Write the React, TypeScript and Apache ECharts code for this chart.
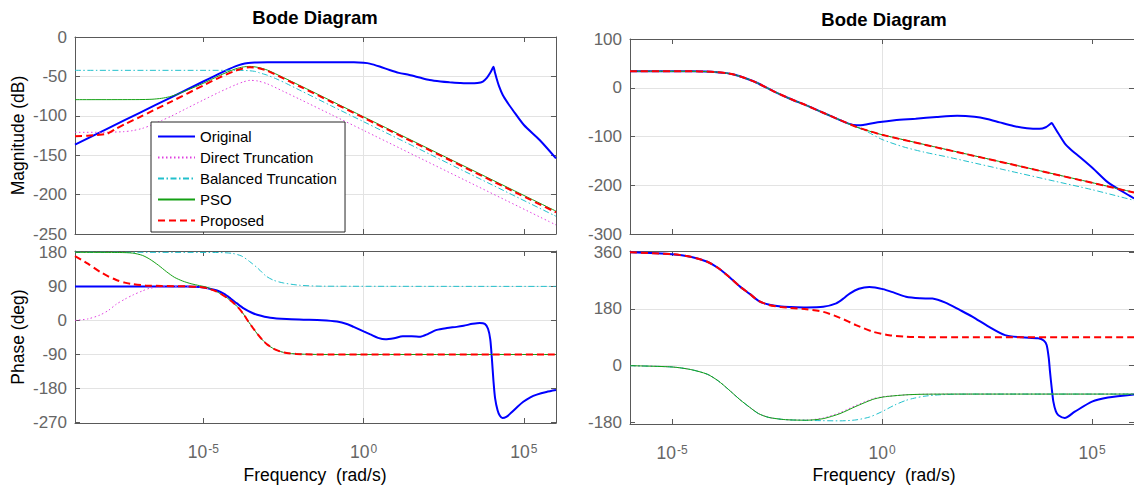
import React, { useEffect, useRef } from 'react';
import * as echarts from 'echarts';

// x values are log10(frequency in rad/s)
type P = [number, number][];

const seriesNames = ['Original', 'Direct Truncation', 'Balanced Truncation', 'PSO', 'Proposed'];
const xTickExponents = [-5, 0, 5];
const magLeftTicks = [-250, -200, -150, -100, -50, 0];
const phaseLeftTicks = [-270, -180, -90, 0, 90, 180];
const magRightTicks = [-300, -200, -100, 0, 100];
const phaseRightTicks = [-180, 0, 180, 360];

// ---------- left magnitude (dB) ----------
const magLOriginal: P = [[-9,-136.5],[-8,-116.5],[-7,-96.5],[-6,-76.5],[-5,-56.5],[-4.5,-46.6],[-4.2,-40.8],[-4,-37.3],[-3.8,-34.6],[-3.6,-33],[-3.4,-32.3],[-3,-32],[-2,-31.9],[-1,-31.9],[-0.3,-32.1],[0,-32.8],[0.19,-33.8],[0.5,-37.5],[0.81,-41.9],[1.1,-45.5],[1.43,-48.2],[1.75,-51.5],[2.06,-54.6],[2.4,-56.5],[2.68,-57.5],[3,-58.3],[3.31,-58.8],[3.55,-58.4],[3.72,-56.5],[3.85,-51.5],[3.95,-45.5],[4.02,-40],[4.05,-37.8],[4.09,-44],[4.15,-53],[4.22,-62],[4.34,-73.6],[4.5,-84],[4.65,-92.6],[5,-111.7],[5.49,-130.7],[6,-154]];
const magLDirect: P = [[-9,-121],[-8,-120.8],[-7.5,-120.2],[-7.2,-118.8],[-6.9,-116],[-6.6,-111.5],[-6.3,-106],[-6,-100.5],[-5.5,-90.2],[-5,-80],[-4.5,-70],[-4,-60.8],[-3.75,-57],[-3.55,-55],[-3.3,-55.8],[-3,-59.5],[-2.5,-69],[-2,-78.8],[-1,-98.6],[0,-118.5],[6,-238.5]];
const magLBalanced: P = [[-9,-42.3],[-4,-42.3],[-3.6,-42.7],[-3.4,-43.6],[-3.26,-45.3],[-3,-48.5],[-2.7,-53.5],[-2.4,-59.2],[-2,-67.3],[-1,-87.5],[0,-107.5],[6,-227.5]];
const magLPso: P = [[-9,-79.5],[-7,-79.4],[-6.6,-79],[-6.3,-77.8],[-6.05,-75.8],[-5.8,-72.5],[-5.5,-67.5],[-5,-58.8],[-4.5,-49],[-4,-40.5],[-3.75,-38],[-3.55,-37.3],[-3.3,-38.5],[-3,-42],[-2.5,-51.5],[-2,-61.3],[-1,-81.3],[0,-101.3],[6,-221]];
const magLProposed: P = [[-9,-125.8],[-8.6,-125.3],[-8.3,-124.3],[-8,-122.8],[-7.7,-116],[-7.4,-109.7],[-7,-102],[-6,-82],[-5,-61.5],[-4.5,-51.5],[-4,-42.8],[-3.75,-39.8],[-3.55,-38.3],[-3.3,-39.3],[-3,-43],[-2.5,-52.5],[-2,-62.5],[-1,-82.5],[0,-102.5],[6,-222.5]];

// ---------- left phase (deg) ----------
const phLOriginal: P = [[-9,90],[-5.5,90],[-5.1,88.5],[-4.8,84],[-4.57,79],[-4.35,70],[-4.15,58],[-3.95,45],[-3.74,32],[-3.5,21],[-3.32,15],[-2.91,7],[-2.4,3.5],[-1.87,2],[-1.3,0.5],[-0.83,-3],[-0.5,-10],[-0.31,-17],[0,-29],[0.21,-37],[0.45,-46],[0.68,-50],[0.95,-47],[1.22,-42],[1.5,-42],[1.77,-43],[2,-36],[2.28,-25],[2.6,-20],[2.9,-17],[3.12,-14],[3.4,-9],[3.62,-6.5],[3.78,-9],[3.88,-22],[3.95,-50],[4,-100],[4.05,-160],[4.1,-205],[4.18,-238],[4.25,-252],[4.33,-258],[4.45,-255],[4.6,-244],[4.8,-228],[4.98,-215],[5.2,-203],[5.4,-196],[5.7,-189],[6,-184]];
const phLDirect: P = [[-9,0],[-8.6,4],[-8.23,14],[-7.95,27],[-7.71,43],[-7.45,56],[-7.2,67],[-6.9,78],[-6.67,85],[-6.15,89],[-5.5,90],[-5,87],[-4.6,77],[-4.3,62],[-4.08,48],[-3.9,33],[-3.74,16],[-3.6,-2],[-3.45,-20],[-3.3,-37],[-3.15,-52],[-3,-64],[-2.8,-75],[-2.6,-82],[-2.4,-86],[-2.1,-88.5],[-1.6,-89.7],[-1,-90],[6,-90]];
const phLBalanced: P = [[-9,180],[-4.5,179.5],[-4.08,177],[-3.8,170],[-3.56,156],[-3.3,138],[-3.04,117],[-2.8,106],[-2.5,99],[-2,93],[-1.3,90.5],[6,90]];
const phLPso: P = [[-9,180],[-7.6,179.5],[-7.2,178],[-6.9,172],[-6.67,162],[-6.4,146],[-6.15,129],[-5.9,114],[-5.64,104],[-5.38,97],[-5.12,92],[-4.9,88],[-4.6,77],[-4.3,62],[-4.08,48],[-3.9,33],[-3.74,16],[-3.6,-2],[-3.45,-20],[-3.3,-37],[-3.15,-52],[-3,-64],[-2.8,-75],[-2.6,-82],[-2.4,-86],[-2.1,-88.5],[-1.6,-89.7],[-1,-90],[6,-90]];
const phLProposed: P = [[-9,170],[-8.6,150],[-8.23,129],[-7.95,116],[-7.71,107],[-7.45,100],[-7.2,96],[-6.8,92.5],[-6.3,91],[-5.5,90],[-5,87],[-4.6,77],[-4.3,62],[-4.08,48],[-3.9,33],[-3.74,16],[-3.6,-2],[-3.45,-20],[-3.3,-37],[-3.15,-52],[-3,-64],[-2.8,-75],[-2.6,-82],[-2.4,-86],[-2.1,-88.5],[-1.6,-89.7],[-1,-90],[6,-90]];

// ---------- right magnitude (dB) ----------
const magROriginal: P = [[-6,33.8],[-4.5,33.7],[-4.2,33.2],[-3.93,32],[-3.7,30],[-3.53,27.3],[-3.25,19.5],[-2.98,10.3],[-2.59,-6.8],[-2.19,-22.6],[-1.8,-36.2],[-1.4,-51.3],[-1,-66.3],[-0.8,-73.5],[-0.6,-77],[-0.45,-76.5],[-0.1,-71],[0.3,-66.5],[0.8,-63.5],[1.3,-60],[1.79,-57.5],[2.2,-59.5],[2.5,-64],[2.8,-71],[3.13,-78.5],[3.45,-83],[3.75,-84.3],[3.9,-81],[4,-75],[4.04,-72.3],[4.1,-80],[4.2,-94],[4.35,-114],[4.5,-127],[4.71,-142],[5.02,-165],[5.38,-194],[5.91,-222.5],[6,-227]];
const magRDirect: P = [[-6,33.8],[-4.5,33.7],[-4.2,33.2],[-3.93,32],[-3.7,30],[-3.53,27.3],[-3.25,19.5],[-2.98,10.3],[-2.59,-6.8],[-2.19,-22.6],[-1.8,-36.2],[-1.4,-51.3],[-1,-66.3],[-0.62,-80],[-0.3,-89],[0,-96.5],[1,-116.5],[2,-136],[3,-155.5],[4,-175.3],[5,-195],[6,-215]];
const magRBalanced: P = [[-6,33.8],[-4.5,33.7],[-4.2,33.2],[-3.93,32],[-3.7,30],[-3.53,27.3],[-3.25,19.5],[-2.98,10.3],[-2.59,-6.8],[-2.19,-22.6],[-1.8,-36.2],[-1.4,-51.3],[-1,-66.3],[-0.7,-77.5],[-0.4,-88],[0,-106],[0.5,-121],[1,-132],[1.56,-142],[2,-150.5],[3,-170],[4,-189.5],[5,-209],[6,-231]];
const magRPso: P = [[-6,33.8],[-4.5,33.7],[-4.2,33.2],[-3.93,32],[-3.7,30],[-3.53,27.3],[-3.25,19.5],[-2.98,10.3],[-2.59,-6.8],[-2.19,-22.6],[-1.8,-36.2],[-1.4,-51.3],[-1,-66.3],[-0.62,-80],[-0.3,-89],[0,-96.3],[1,-116.2],[2,-135.7],[3,-155.2],[4,-175],[5,-194.6],[6,-214.5]];
const magRProposed: P = [[-6,33.8],[-4.5,33.7],[-4.2,33.2],[-3.93,32],[-3.7,30],[-3.53,27.3],[-3.25,19.5],[-2.98,10.3],[-2.59,-6.8],[-2.19,-22.6],[-1.8,-36.2],[-1.4,-51.3],[-1,-66.3],[-0.62,-80],[-0.3,-89],[0,-96.5],[1,-116.5],[2,-136],[3,-155.5],[4,-175.3],[5,-195],[6,-215]];

// ---------- right phase (deg) ----------
const phROriginal: P = [[-6,360],[-5,354],[-4.56,346],[-4.16,330],[-3.9,310],[-3.65,283],[-3.38,251],[-3.15,228],[-2.94,206],[-2.7,194],[-2.4,188],[-2.19,186.5],[-1.8,185],[-1.4,187],[-1.09,198],[-0.9,215],[-0.77,229],[-0.55,244],[-0.3,249.5],[0.02,243],[0.3,231],[0.57,219],[0.9,214],[1.2,213],[1.51,200],[1.85,177],[2.15,156],[2.54,124],[2.93,97],[3.33,90],[3.72,87],[3.85,80],[3.92,66],[3.97,25],[4,-19],[4.04,-70],[4.08,-114],[4.14,-145],[4.2,-157],[4.35,-166],[4.59,-146],[5,-114],[5.38,-101],[6,-91]];
const phRDirect: P = [[-6,0],[-5,-4],[-4.56,-12],[-4.16,-27],[-3.9,-48],[-3.65,-76],[-3.38,-108],[-3.15,-132],[-2.94,-152],[-2.7,-164],[-2.4,-170],[-2.19,-172],[-1.8,-172.5],[-1.4,-166],[-1,-149],[-0.62,-126],[-0.22,-105],[0,-99],[0.17,-96.5],[0.57,-92.5],[1,-90.5],[2,-90],[6,-90]];
const phRBalanced: P = [[-6,0],[-5,-4],[-4.56,-12],[-4.16,-27],[-3.9,-48],[-3.65,-76],[-3.38,-108],[-3.15,-132],[-2.94,-152],[-2.7,-164],[-2.4,-170],[-2.19,-172],[-1.8,-173.5],[-1.4,-174.5],[-1,-175],[-0.62,-172],[-0.3,-163],[-0.02,-147],[0.3,-125],[0.57,-110],[0.77,-103],[1,-97],[1.36,-92.5],[1.75,-90.5],[2.5,-90],[6,-90]];
const phRPso: P = [[-6,0],[-5,-4],[-4.56,-12],[-4.16,-27],[-3.9,-48],[-3.65,-76],[-3.38,-108],[-3.15,-132],[-2.94,-152],[-2.7,-164],[-2.4,-170],[-2.19,-172],[-1.8,-173],[-1.4,-168],[-1,-152],[-0.62,-129],[-0.22,-107],[0,-100],[0.17,-97],[0.57,-92.5],[1,-90.5],[2,-90],[6,-90]];
const phRProposed: P = [[-6,360],[-5,354],[-4.56,346],[-4.16,330],[-3.9,310],[-3.65,283],[-3.38,251],[-3.15,228],[-2.94,206],[-2.7,193],[-2.4,186],[-2.19,183.5],[-1.8,179],[-1.4,171],[-1,152],[-0.62,129],[-0.22,108],[0.17,97],[0.57,92],[1,90.5],[2,90],[6,90]];

const panels: P[][] = [
  [magLOriginal, magLDirect, magLBalanced, magLPso, magLProposed],
  [phLOriginal, phLDirect, phLBalanced, phLPso, phLProposed],
  [magROriginal, magRDirect, magRBalanced, magRPso, magRProposed],
  [phROriginal, phRDirect, phRBalanced, phRPso, phRProposed],
];

const FONT = '"Liberation Sans", Arial, Helvetica, sans-serif';
const FRAME = '#595959';
const GRIDC = '#e3e3e3';
const LABELC = '#666666';

const lineStyles: any[] = [
  { color: '#0000ff', width: 2, type: 'solid' },
  { color: '#e040e0', width: 1, type: [1.5, 2.5] },
  { color: '#22c0cc', width: 1, type: [6, 2.5, 1.5, 2.5] },
  { color: '#14a014', width: 1, type: 'solid' },
  { color: '#ff0000', width: 2, type: [7, 4] },
];

const gridBoxes = [
  { left: 75, top: 37, width: 481, height: 197 },
  { left: 75, top: 251, width: 481, height: 172 },
  { left: 630, top: 39, width: 508, height: 195 },
  { left: 630, top: 251, width: 508, height: 173 },
];
const xRanges = [[-9, 6], [-9, 6], [-6, 6], [-6, 6]];
const yRanges = [[-250, 0], [-271, 183.5], [-300, 100], [-185, 364]];
const yTickSets = [magLeftTicks, phaseLeftTicks, magRightTicks, phaseRightTicks];

function buildOption() {
  const xAxis: any[] = [];
  const yAxis: any[] = [];
  const series: any[] = [];
  gridBoxes.forEach((_, gi) => {
    const isPhase = gi === 1 || gi === 3;
    const [xmin, xmax] = xRanges[gi];
    const [ymin, ymax] = yRanges[gi];
    const ticks = yTickSets[gi];
    xAxis.push({
      type: 'value', gridIndex: gi, position: 'bottom', min: xmin, max: xmax,
      axisLine: { show: true, onZero: false, lineStyle: { color: FRAME, width: 1 } },
      axisTick: { show: true, inside: true, length: 5, customValues: xTickExponents, lineStyle: { color: FRAME } },
      axisLabel: {
        show: isPhase, customValues: xTickExponents, margin: 20,
        formatter: (v: number) => `{b|10}{s|${v}}`,
        rich: {
          b: { fontSize: 17.5, lineHeight: 18, padding: [6, 0, 0, 0], verticalAlign: 'bottom', color: LABELC, fontFamily: FONT },
          s: { fontSize: 12, lineHeight: 13, padding: [0, 0, 0, 1], verticalAlign: 'top', color: LABELC, fontFamily: FONT },
        },
      },
      splitLine: { show: true, showMinLine: false, showMaxLine: false, lineStyle: { color: GRIDC, width: 1 } },
    });
    xAxis.push({
      type: 'value', gridIndex: gi, position: 'top', min: xmin, max: xmax,
      axisLine: { show: true, onZero: false, lineStyle: { color: FRAME, width: 1 } },
      axisTick: { show: true, inside: true, length: 5, customValues: xTickExponents, lineStyle: { color: FRAME } },
      axisLabel: { show: false },
      splitLine: { show: false },
    });
    yAxis.push({
      type: 'value', gridIndex: gi, position: 'left', min: ymin, max: ymax,
      axisLine: { show: true, onZero: false, lineStyle: { color: FRAME, width: 1 } },
      axisTick: { show: true, inside: true, length: 5, customValues: ticks, lineStyle: { color: FRAME } },
      axisLabel: { show: true, customValues: ticks, margin: 8, fontSize: 17, color: LABELC, fontFamily: FONT },
      splitLine: { show: true, showMinLine: false, showMaxLine: false, lineStyle: { color: GRIDC, width: 1 } },
    });
    yAxis.push({
      type: 'value', gridIndex: gi, position: 'right', min: ymin, max: ymax,
      axisLine: { show: true, onZero: false, lineStyle: { color: FRAME, width: 1 } },
      axisTick: { show: true, inside: true, length: 5, customValues: ticks, lineStyle: { color: FRAME } },
      axisLabel: { show: false },
      splitLine: { show: false },
    });
    panels[gi].forEach((data, si) => {
      const ls = lineStyles[si];
      series.push({
        type: 'line', name: seriesNames[si], data,
        xAxisIndex: gi * 2, yAxisIndex: gi * 2,
        symbol: 'none', showSymbol: false, smooth: 0.25, clip: true, silent: true,
        lineStyle: { color: ls.color, width: ls.width, type: ls.type },
        itemStyle: { color: ls.color },
        emphasis: { disabled: true },
        z: 2 + si * 0.01,
      });
    });
  });

  return {
    animation: false,
    backgroundColor: '#ffffff',
    grid: gridBoxes.map((g) => ({ ...g, containLabel: false, show: false })),
    xAxis,
    yAxis,
    series,
    legend: {
      data: seriesNames,
      orient: 'vertical',
      left: 151,
      top: 122,
      padding: [7, 8, 4, 6],
      itemGap: 6,
      itemWidth: 37,
      itemHeight: 14,
      backgroundColor: '#ffffff',
      borderColor: '#262626',
      borderWidth: 1,
      borderRadius: 0,
      selectedMode: false,
      itemStyle: { opacity: 0, color: 'transparent', borderWidth: 0 },
      textStyle: { fontSize: 15, color: '#000000', fontFamily: FONT, lineHeight: 15 },
      z: 10,
    },
    graphic: [
      { type: 'text', x: 315, y: 17.5, style: { text: 'Bode Diagram', textAlign: 'center', textVerticalAlign: 'middle', font: `bold 18.5px ${FONT}`, fill: '#000' } },
      { type: 'text', x: 884, y: 19.5, style: { text: 'Bode Diagram', textAlign: 'center', textVerticalAlign: 'middle', font: `bold 18.5px ${FONT}`, fill: '#000' } },
      { type: 'text', x: 17.5, y: 135.5, rotation: Math.PI / 2, style: { text: 'Magnitude (dB)', textAlign: 'center', textVerticalAlign: 'middle', font: `17.5px ${FONT}`, fill: '#000' } },
      { type: 'text', x: 17.5, y: 337, rotation: Math.PI / 2, style: { text: 'Phase (deg)', textAlign: 'center', textVerticalAlign: 'middle', font: `17.5px ${FONT}`, fill: '#000' } },
      { type: 'text', x: 315, y: 475, style: { text: 'Frequency  (rad/s)', textAlign: 'center', textVerticalAlign: 'middle', font: `17.5px ${FONT}`, fill: '#000' } },
      { type: 'text', x: 884, y: 475, style: { text: 'Frequency  (rad/s)', textAlign: 'center', textVerticalAlign: 'middle', font: `17.5px ${FONT}`, fill: '#000' } },
    ],
  };
}

export default function App() {
  const ref = useRef<HTMLDivElement>(null);
  useEffect(() => {
    if (!ref.current) return;
    const chart = echarts.init(ref.current, undefined, { renderer: 'svg' });
    chart.setOption(buildOption() as any);
    return () => chart.dispose();
  }, []);
  return (
    <div
      ref={ref}
      style={{ position: 'fixed', left: 0, top: 0, width: '1134px', height: '486px', background: '#fff' }}
    />
  );
}
